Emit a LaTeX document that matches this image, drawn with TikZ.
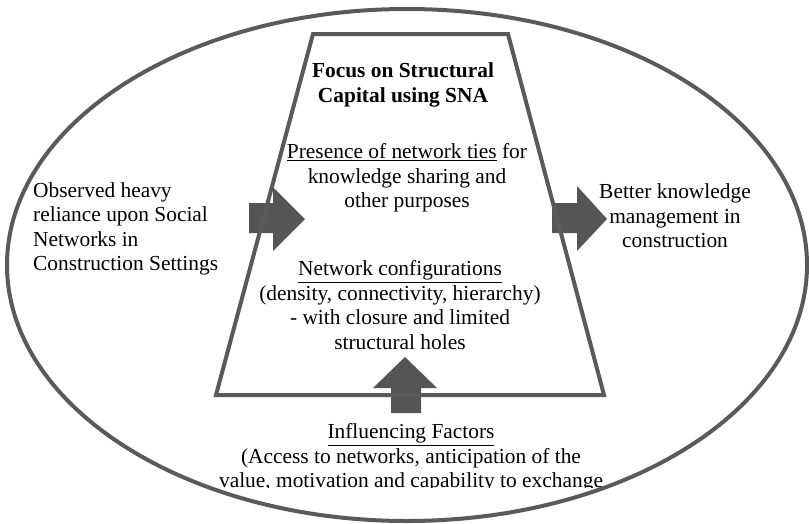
\documentclass[tikz,border=0pt]{standalone}
\usepackage{fontspec}
\setmainfont{Liberation Serif}
\definecolor{linegray}{HTML}{5A5A5A}
\definecolor{arrowgray}{HTML}{555555}
\begin{document}
\begin{tikzpicture}[x=1pt,y=-1pt,
  frame/.style={draw=linegray, line width=4pt},
  bigarrow/.style={fill=arrowgray, draw=none},
  txt/.style={font=\fontsize{21.4}{24.4}\selectfont, align=center, inner sep=0pt}]
\useasboundingbox (0,0) rectangle (809,523);
% outer ellipse
\draw[frame] (407,265) ellipse [x radius=400, y radius=256];
% block arrows
\fill[bigarrow] (249,203) -- (273,203) -- (273,187) -- (305,219) -- (273,251) -- (273,233) -- (249,233) -- cycle;
\fill[bigarrow] (552,203) -- (577,203) -- (577,186) -- (607,219) -- (577,251) -- (577,233) -- (552,233) -- cycle;
\fill[bigarrow] (391,413) -- (391,388) -- (373,388) -- (405,357) -- (437,388) -- (421,388) -- (421,413) -- cycle;
% trapezoid
\draw[frame, line join=miter] (313,34) -- (508,34) -- (604,395) -- (216,395) -- cycle;
% texts
\node[txt, font=\fontsize{21.4}{24.4}\selectfont\bfseries] (focus) at (403,85) {Focus on Structural\\Capital using SNA};
\node[txt] (ties) at (407,178) {\underline{Presence of network ties} for\\knowledge sharing and\\other purposes};
\node[txt, align=left, anchor=west] (obs) at (33,229) {Observed heavy\\reliance upon Social\\Networks in\\Construction Settings};
\node[txt] (better) at (675,216) {Better knowledge\\management in\\construction};
\node[txt] (config) at (400,305) {\underline{Network configurations}\\(density, connectivity, hierarchy)\\- with closure and limited\\structural holes};
\begin{scope}
\clip (0,0) rectangle (809,487.5);
\node[txt] (infl) at (411,458) {\underline{Influencing Factors}\\(Access to networks, anticipation of the\\value, motivation and capability to exchange};
\end{scope}
\end{tikzpicture}
\end{document}
